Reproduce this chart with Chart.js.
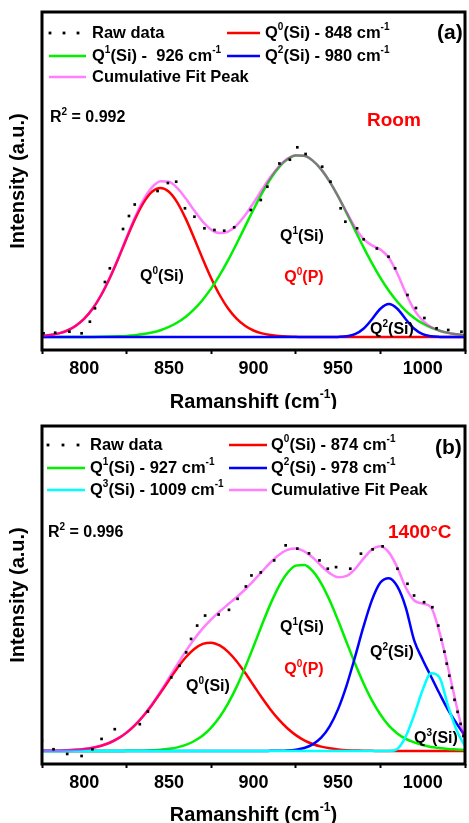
<!DOCTYPE html>
<html><head><meta charset="utf-8">
<script src="https://cdn.jsdelivr.net/npm/chart.js@4/dist/chart.umd.min.js"></script>
<style>
html,body{margin:0;padding:0;background:#fff;}
.panel{position:absolute;left:0;width:469px;height:409px;}
canvas{display:block;}
</style></head><body>
<div class="panel" style="top:0"><canvas id="ca" width="469" height="409"></canvas></div>
<div class="panel" style="top:414px"><canvas id="cb" width="469" height="409"></canvas></div>
<script>
// ---------- data ----------
const ramanShift = [775,780,785,790,795,800,805,810,815,820,825,830,835,840,845,850,855,860,865,870,875,880,885,890,895,900,905,910,915,920,925,930,935,940,945,950,955,960,965,970,975,980,985,990,995,1000,1005,1010,1015,1020,1025];
const tickLabels = [800,850,900,950,1000];

// Panel (a) - Room
const roomQ0Si = [0.9,1.9,3.6,6.5,11.3,18.4,28.5,42.0,58.8,78.1,98.6,118.1,134.4,145.2,149,145.2,134.4,118.1,98.6,78.1,58.8,42.0,28.5,18.4,11.3,6.5,3.6,1.9,0.9,0.4,0.2,0,0,0,0,0,0,0,0,0,0,0,0,0,0,0,0,0,0,0,0];
const roomQ1Si = [0,0,0,0,0,0.1,0.1,0.2,0.4,0.7,1.1,1.8,2.9,4.5,6.8,10.1,14.5,20.3,27.8,37.3,48.6,61.9,76.9,93.3,110.4,127.5,143.7,158.0,169.6,177.7,181.6,181.2,176.4,167.6,155.4,140.6,124.1,106.9,89.9,73.8,59.1,46.2,35.2,26.2,19.0,13.5,9.3,6.3,4.1,2.7,1.7];
const roomQ2Si = [0,0,0,0,0,0,0,0,0,0,0,0,0,0,0,0,0,0,0,0,0,0,0,0,0,0,0,0,0,0,0,0,0,0,0,0.1,0.7,2.8,8.2,17.8,28.3,33,28.3,17.8,8.2,2.8,0.7,0.1,0,0,0];
const roomCum  = [0.9,1.9,3.6,6.5,11.3,18.5,28.6,42.2,59.2,78.8,99.7,119.9,137.3,149.7,155.8,155.3,148.9,138.4,126.4,115.4,107.4,103.9,105.4,111.7,121.7,134.0,147.3,159.9,170.5,178.1,181.8,181.3,176.4,167.6,155.4,140.7,124.8,109.7,98.1,91.6,87.4,79.2,63.5,44.0,27.2,16.3,10.0,6.4,4.1,2.7,1.7];
const roomRawX = [775.9,782.8,791.2,798.4,803.3,806.3,812.2,815.1,822.9,826.4,829.8,843.3,849.4,854.3,859.5,865.1,871.0,876.9,882.7,888.6,898.4,904.3,908.2,915.3,921.5,925.9,930.8,940.6,945.5,951.5,954.3,961.2,965.1,972.9,979.8,983.7,991.0,996.0,1001.0,1008.2,1015.1,1022.9];
const roomRawY = [3.7,4.3,5.3,3.7,15.3,28.7,55,68.7,108,121,132.5,146,154,155.3,128.7,120.3,108.7,107,106.3,109.7,127,137,150.3,173.5,177.3,189.7,183,170.3,155.3,128.7,115.3,108.7,97.7,88.5,80.3,68.7,42,29,19,8.7,7,5.3];

// Panel (b) - 1400 °C
const hotQ0Si = [0.1,0.2,0.3,0.6,1.1,1.9,3.2,5.2,8.2,12.5,18.3,25.8,35.1,45.9,58.0,70.5,82.7,93.4,101.7,106.7,108.0,105.2,98.8,89.4,77.9,65.5,53.0,41.4,31.2,22.6,15.8,10.6,6.9,4.3,2.6,1.5,0.8,0.5,0.2,0.1,0,0,0,0,0,0,0,0,0,0,0];
const hotQ1Si = [0,0,0,0,0,0,0,0,0,0,0.1,0.2,0.3,0.6,1.1,2.1,3.6,6.1,9.9,15.5,23.3,33.8,47.4,63.9,83.1,104.1,125.8,146.4,164.1,177.4,184.8,185.4,179.4,167.2,150.2,130.0,108.5,87.2,67.6,50.4,36.3,25.2,17.5,12,8.5,6,4,3,2,1.5,1];
const hotQ2Si = [0,0,0,0,0,0,0,0,0,0,0,0,0,0,0,0,0,0,0,0,0,0,0,0,0,0,0,0.1,0.2,0.5,1.3,3.0,6.6,13.2,24.5,41.7,65.2,93.7,123.9,150.4,167.9,172.2,164,143,110,91,74,57,41,27.5,15];
const hotQ3Si = [0,0,0,0,0,0,0,0,0,0,0,0,0,0,0,0,0,0,0,0,0,0,0,0,0,0,0,0,0,0,0,0,0,0,0,0,0,0,0,0,0,0,2,14.5,36,61,77.5,73,45,21,4.5];
const hotCum  = [0.1,0.2,0.3,0.6,1.1,1.9,3.2,5.2,8.2,12.5,18.4,26.0,35.4,46.5,59.1,72.6,86.3,99.5,111.6,122.2,131.3,139.0,146.2,153.3,161.0,169.6,178.8,187.9,195.5,200.5,201.9,199.0,192.9,184.7,177.3,173.2,174.5,181.4,191.7,200.9,204.2,198,183,163,150,147,143,118,83,45,9];
const hotRawX = [774.9,781.8,789.9,798.4,804.8,810.2,818.0,832.8,837.6,851.4,856.3,860.2,863.1,866.7,871.4,879.4,885.5,890.6,895.5,898.8,904.3,912.2,919.0,925.9,932.8,939.0,943.9,948.8,957.2,963.5,970.4,976.3,985.1,991.0,994.9,1000.8,1005.7,1009.2,1011.0,1012.8,1014.2,1015.7,1017.2,1018.8,1020.6,1022.4,1024.1];
const hotRawY = [10,1.7,-3,-5,1.7,12,21.7,26.7,39.3,73.3,85,98.3,111.7,125,135,136,140.7,151.7,164,175,178,190,205,201.7,197,190,181.7,183.3,181.7,196.7,201,204,181.7,166.7,155,148.3,143.3,125,111,99,87,75,63,51,39,27,15];

// ---------- helpers ----------
const FONT = '"Liberation Sans", Arial, sans-serif';
const C = {raw:'#000000', q0:'#ff0000', q1:'#00f000', q2:'#0000ff', q3:'#00ffff', cum:'rgba(255,0,255,0.5)'};

function pts(ys){ return ramanShift.map((x,i)=>({x:x, y:ys[i]})); }
function rawPts(xs, ys){ return xs.map((x,i)=>({x:x, y:ys[i]})); }
function lineDS(label, ys, color, order){
  return {label:label, data:pts(ys), borderColor:color, backgroundColor:color, borderWidth:2.5,
          pointRadius:0, fill:false, cubicInterpolationMode:'monotone', order:order};
}
function rawDS(xs, ys){
  return {label:'Raw data', data:rawPts(xs, ys), showLine:false, pointStyle:'rect', pointRadius:1.9,
          pointBackgroundColor:'#000', pointBorderWidth:0, borderColor:'#000', order:0};
}

function fontStr(size){ return 'bold ' + size + 'px ' + FONT; }
function richWidth(ctx, parts, size){
  let w = 0;
  parts.forEach(p => {
    const sup = p.startsWith('^');
    ctx.font = fontStr(sup ? Math.round(size*0.62) : size);
    w += ctx.measureText(sup ? p.slice(1) : p).width;
  });
  return w;
}
function drawRich(ctx, x, y, parts, size, color, align){
  let cx = x;
  if (align === 'center') cx = x - richWidth(ctx, parts, size)/2;
  ctx.fillStyle = color || '#000';
  ctx.textBaseline = 'middle';
  ctx.textAlign = 'left';
  parts.forEach(p => {
    const sup = p.startsWith('^');
    const t = sup ? p.slice(1) : p;
    ctx.font = fontStr(sup ? Math.round(size*0.62) : size);
    ctx.fillText(t, cx, sup ? y - size*0.36 : y);
    cx += ctx.measureText(t).width;
  });
}

const annotPlugin = {
  id:'annot',
  afterDatasetsDraw(chart, args, o){
    const ctx = chart.ctx, a = chart.chartArea;
    ctx.save();
    ctx.lineWidth = 3; ctx.strokeStyle = '#000';
    ctx.strokeRect(a.left, a.top, a.right - a.left, a.bottom - a.top);
    // legend
    o.legend.forEach(it => {
      const y = o.rows[it.r];
      const [x1, x2] = o.lineX[it.c];
      if (it.kind === 'dots') {
        ctx.fillStyle = '#000';
        o.dotX.forEach(dx => ctx.fillRect(dx - 1.4, y - 1.4, 2.8, 2.8));
      } else {
        ctx.strokeStyle = it.color; ctx.lineWidth = 2.5; ctx.lineCap = 'butt';
        ctx.beginPath(); ctx.moveTo(x1, y); ctx.lineTo(x2, y); ctx.stroke();
      }
      drawRich(ctx, o.textX[it.c], y, it.parts, 16.5, '#000', 'left');
    });
    o.texts.forEach(t => drawRich(ctx, t.x, t.y, t.parts, t.size, t.color, t.align));
    // x axis title
    drawRich(ctx, (a.left + a.right)/2, o.xTitleY, ['Ramanshift (cm','^-1',')'], 20, '#000', 'center');
    ctx.restore();
  }
};

function makeChart(id, datasets, yMax, annot){
  return new Chart(document.getElementById(id), {
    type:'line',
    data:{datasets:datasets},
    options:{
      responsive:false, animation:false, devicePixelRatio:1,
      layout:{padding:{top:12, right:1, left:0, bottom:0}},
      plugins:{legend:{display:false}, tooltip:{enabled:false}, annot:annot},
      scales:{
        x:{type:'linear', min:775, max:1025,
           ticks:{stepSize:25, autoSkip:false, maxRotation:0, padding:4, color:'#000',
                  font:{family:FONT, size:18, weight:'bold'},
                  callback:v => tickLabels.includes(v) ? String(v) : ''},
           grid:{drawOnChartArea:false, drawTicks:true, tickLength:4, tickWidth:2,
                 tickColor:c => (c.tick && tickLabels.includes(c.tick.value)) ? 'rgba(0,0,0,0)' : '#000'},
           border:{display:false},
           afterFit:s => { s.height = 59; }},
        y:{min:-13, max:yMax,
           ticks:{display:false}, grid:{display:false}, border:{display:false},
           title:{display:true, text:'Intensity (a.u.)', color:'#000', font:{family:FONT, size:20, weight:'bold'}, padding:{top:6, bottom:0}},
           afterFit:s => { s.width = 42; }}
      }
    },
    plugins:[annotPlugin]
  });
}

// ---------- panel (a) ----------
makeChart('ca', [
  rawDS(roomRawX, roomRawY),
  lineDS('Cumulative Fit Peak', roomCum, C.cum, 1),
  lineDS('Q2(Si) - 980 cm-1', roomQ2Si, C.q2, 2),
  lineDS('Q1(Si) - 926 cm-1', roomQ1Si, C.q1, 3),
  lineDS('Q0(Si) - 848 cm-1', roomQ0Si, C.q0, 4)
], 325, {
  rows:[33,56,77], lineX:[[49,86],[227,260]], textX:[92,265], dotX:[50,64,78], xTitleY:402,
  legend:[
    {c:0, r:0, kind:'dots', parts:['Raw data']},
    {c:1, r:0, color:C.q0, parts:['Q','^0','(Si) - 848 cm','^-1']},
    {c:0, r:1, color:C.q1, parts:['Q','^1','(Si) -  926 cm','^-1']},
    {c:1, r:1, color:C.q2, parts:['Q','^2','(Si) - 980 cm','^-1']},
    {c:0, r:2, color:C.cum, parts:['Cumulative Fit Peak']}
  ],
  texts:[
    {x:437, y:33, parts:['(a)'], size:21, color:'#000', align:'left'},
    {x:50, y:118, parts:['R','^2',' = 0.992'], size:16, color:'#000', align:'left'},
    {x:367, y:121, parts:['Room'], size:19, color:'#ff0000', align:'left'},
    {x:162, y:277, parts:['Q','^0','(Si)'], size:16, color:'#000', align:'center'},
    {x:302, y:237, parts:['Q','^1','(Si)'], size:16, color:'#000', align:'center'},
    {x:304, y:278, parts:['Q','^0','(P)'], size:16, color:'#ff0000', align:'center'},
    {x:392, y:330, parts:['Q','^2','(Si)'], size:16, color:'#000', align:'center'}
  ]
});

// ---------- panel (b) ----------
makeChart('cb', [
  rawDS(hotRawX, hotRawY),
  lineDS('Cumulative Fit Peak', hotCum, C.cum, 1),
  lineDS('Q3(Si) - 1009 cm-1', hotQ3Si, C.q3, 2),
  lineDS('Q2(Si) - 978 cm-1', hotQ2Si, C.q2, 3),
  lineDS('Q1(Si) - 927 cm-1', hotQ1Si, C.q1, 4),
  lineDS('Q0(Si) - 874 cm-1', hotQ0Si, C.q0, 5)
], 324, {
  rows:[31,54,76], lineX:[[47,85],[229,267]], textX:[90,271], dotX:[48,63,78], xTitleY:401,
  legend:[
    {c:0, r:0, kind:'dots', parts:['Raw data']},
    {c:1, r:0, color:C.q0, parts:['Q','^0','(Si) - 874 cm','^-1']},
    {c:0, r:1, color:C.q1, parts:['Q','^1','(Si) - 927 cm','^-1']},
    {c:1, r:1, color:C.q2, parts:['Q','^2','(Si) - 978 cm','^-1']},
    {c:0, r:2, color:C.q3, parts:['Q','^3','(Si) - 1009 cm','^-1']},
    {c:1, r:2, color:C.cum, parts:['Cumulative Fit Peak']}
  ],
  texts:[
    {x:435, y:34, parts:['(b)'], size:21, color:'#000', align:'left'},
    {x:48, y:119, parts:['R','^2',' = 0.996'], size:16, color:'#000', align:'left'},
    {x:388, y:119, parts:['1400°C'], size:19, color:'#ff0000', align:'left'},
    {x:208, y:273, parts:['Q','^0','(Si)'], size:16, color:'#000', align:'center'},
    {x:302, y:214, parts:['Q','^1','(Si)'], size:16, color:'#000', align:'center'},
    {x:304, y:256, parts:['Q','^0','(P)'], size:16, color:'#ff0000', align:'center'},
    {x:392, y:239, parts:['Q','^2','(Si)'], size:16, color:'#000', align:'center'},
    {x:436, y:325, parts:['Q','^3','(Si)'], size:16, color:'#000', align:'center'}
  ]
});
</script>
</body></html>
